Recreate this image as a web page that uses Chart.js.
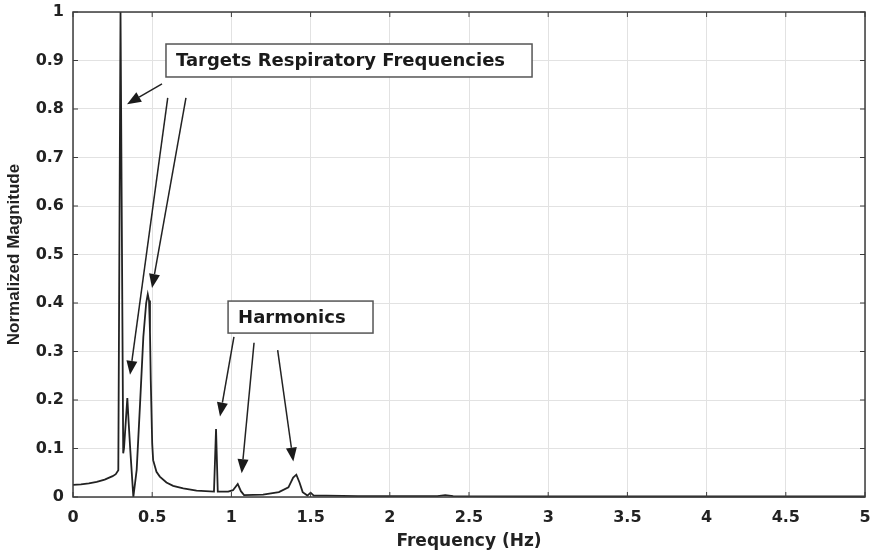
<!DOCTYPE html>
<html><head><meta charset="utf-8">
<script src="https://cdn.jsdelivr.net/npm/chart.js@4/dist/chart.umd.min.js"></script>
<style>html,body{margin:0;padding:0;background:#fff}</style>
</head><body>
<canvas id="c" width="875" height="555"></canvas>
<script>
// ---- data ----
const freqHz = [0, 0.05, 0.1, 0.15, 0.2, 0.25, 0.27, 0.286, 0.3, 0.317, 0.322, 0.343, 0.352, 0.362, 0.381, 0.402, 0.423, 0.444, 0.462, 0.472, 0.48, 0.486, 0.491, 0.5, 0.506, 0.527, 0.548, 0.59, 0.632, 0.696, 0.78, 0.89, 0.903, 0.914, 0.98, 1.01, 1.04, 1.06, 1.08, 1.2, 1.3, 1.36, 1.39, 1.41, 1.43, 1.45, 1.48, 1.5, 1.52, 1.6, 1.8, 2.0, 2.3, 2.35, 2.4, 3.0, 4.0, 5.0];
const magnitude = [0.025, 0.026, 0.028, 0.031, 0.036, 0.043, 0.047, 0.055, 1.0, 0.09, 0.1, 0.204, 0.15, 0.095, 0.0, 0.056, 0.19, 0.33, 0.4, 0.418, 0.405, 0.34, 0.24, 0.11, 0.076, 0.052, 0.042, 0.03, 0.023, 0.018, 0.013, 0.011, 0.14, 0.011, 0.011, 0.014, 0.027, 0.012, 0.004, 0.005, 0.01, 0.02, 0.04, 0.046, 0.03, 0.01, 0.003, 0.009, 0.003, 0.003, 0.002, 0.002, 0.002, 0.004, 0.002, 0.001, 0.001, 0.001];
const xTickLabels = ['0', '0.5', '1', '1.5', '2', '2.5', '3', '3.5', '4', '4.5', '5'];
const yTickLabels = ['0', '0.1', '0.2', '0.3', '0.4', '0.5', '0.6', '0.7', '0.8', '0.9', '1'];
const xAxisTitle = 'Frequency (Hz)';
const yAxisTitle = 'Normalized Magnitude';
const calloutTexts = ['Targets Respiratory Frequencies', 'Harmonics'];

// annotation geometry, in data units (freq, magnitude)
const calloutGeom = [
  { x0: 0.587, x1: 2.898, y0: 0.866, y1: 0.934, arrows: [
      [0.562, 0.852, 0.341, 0.810],
      [0.598, 0.823, 0.360, 0.252],
      [0.713, 0.823, 0.499, 0.431] ] },
  { x0: 0.979, x1: 1.894, y0: 0.338, y1: 0.404, arrows: [
      [1.016, 0.330, 0.928, 0.166],
      [1.143, 0.318, 1.065, 0.049],
      [1.292, 0.303, 1.391, 0.073] ] }
];

const points = freqHz.map((f, i) => ({ x: f, y: magnitude[i] }));

const annotPlugin = {
  id: 'annot',
  afterDatasetsDraw(chart) {
    const { ctx, chartArea: a, scales: { x, y } } = chart;
    ctx.save();
    // plot box
    ctx.strokeStyle = '#3c3c3c';
    ctx.lineWidth = 1.5;
    ctx.strokeRect(a.left, a.top, a.right - a.left, a.bottom - a.top);
    // inner tick marks
    ctx.lineWidth = 1;
    x.ticks.forEach(t => {
      const px = x.getPixelForValue(t.value);
      ctx.beginPath();
      ctx.moveTo(px, a.bottom); ctx.lineTo(px, a.bottom - 5);
      ctx.moveTo(px, a.top); ctx.lineTo(px, a.top + 5);
      ctx.stroke();
    });
    y.ticks.forEach(t => {
      const py = y.getPixelForValue(t.value);
      ctx.beginPath();
      ctx.moveTo(a.left, py); ctx.lineTo(a.left + 5, py);
      ctx.moveTo(a.right, py); ctx.lineTo(a.right - 5, py);
      ctx.stroke();
    });
    // callouts
    calloutGeom.forEach((c, i) => {
      const l = x.getPixelForValue(c.x0), r = x.getPixelForValue(c.x1);
      const t = y.getPixelForValue(c.y1), b = y.getPixelForValue(c.y0);
      ctx.fillStyle = '#fff';
      ctx.fillRect(l, t, r - l, b - t);
      ctx.strokeStyle = '#555';
      ctx.lineWidth = 1.5;
      ctx.strokeRect(l, t, r - l, b - t);
      ctx.fillStyle = '#1a1a1a';
      ctx.font = 'bold 18px "DejaVu Sans"';
      ctx.textBaseline = 'middle';
      ctx.textAlign = 'left';
      ctx.fillText(calloutTexts[i], l + 10, (t + b) / 2 + 1);
      c.arrows.forEach(ar => {
        const sx = x.getPixelForValue(ar[0]), sy = y.getPixelForValue(ar[1]);
        const ex = x.getPixelForValue(ar[2]), ey = y.getPixelForValue(ar[3]);
        const ang = Math.atan2(ey - sy, ex - sx);
        const hl = 14, hw = 5.5;
        const bx = ex - hl * Math.cos(ang), by = ey - hl * Math.sin(ang);
        ctx.strokeStyle = '#222';
        ctx.lineWidth = 1.5;
        ctx.beginPath();
        ctx.moveTo(sx, sy); ctx.lineTo(bx, by);
        ctx.stroke();
        ctx.fillStyle = '#1a1a1a';
        ctx.beginPath();
        ctx.moveTo(ex, ey);
        ctx.lineTo(bx + hw * Math.sin(ang), by - hw * Math.cos(ang));
        ctx.lineTo(bx - hw * Math.sin(ang), by + hw * Math.cos(ang));
        ctx.closePath();
        ctx.fill();
      });
    });
    ctx.restore();
  }
};

new Chart(document.getElementById('c'), {
  type: 'scatter',
  data: { datasets: [{
    data: points,
    showLine: true,
    borderColor: '#222',
    borderWidth: 1.8,
    pointRadius: 0,
    tension: 0,
    clip: false
  }]},
  options: {
    responsive: false,
    animation: false,
    devicePixelRatio: 1,
    layout: { padding: { top: 12, right: 10, left: 0, bottom: 0 } },
    plugins: { legend: { display: false }, tooltip: { enabled: false } },
    scales: {
      x: {
        type: 'linear', min: 0, max: 5,
        ticks: {
          stepSize: 0.5, autoSkip: false, maxRotation: 0,
          callback: (v, i) => xTickLabels[i],
          font: { family: 'DejaVu Sans', weight: 'bold', size: 16 },
          color: '#222', padding: 11
        },
        grid: { color: '#e2e2e2', drawTicks: false },
        border: { display: false },
        title: { display: true, text: xAxisTitle, color: '#222',
          font: { family: 'DejaVu Sans', weight: 'bold', size: 17 }, padding: { top: 0, bottom: 3 } },
        afterFit(s) { s.height = 58; s.paddingLeft = 0; s.paddingRight = 0; }
      },
      y: {
        type: 'linear', min: 0, max: 1,
        ticks: {
          stepSize: 0.1, autoSkip: false,
          callback: (v, i) => yTickLabels[i],
          font: { family: 'DejaVu Sans', weight: 'bold', size: 16 },
          color: '#222', padding: 9
        },
        grid: { color: '#e2e2e2', drawTicks: false },
        border: { display: false },
        title: { display: true, text: yAxisTitle, color: '#222',
          font: { family: 'Liberation Sans', weight: 'bold', size: 17 }, padding: { top: 4, bottom: 0 } },
        afterFit(s) { s.width = 73; s.paddingTop = 0; s.paddingBottom = 0; }
      }
    }
  },
  plugins: [annotPlugin]
});
</script>
</body></html>
